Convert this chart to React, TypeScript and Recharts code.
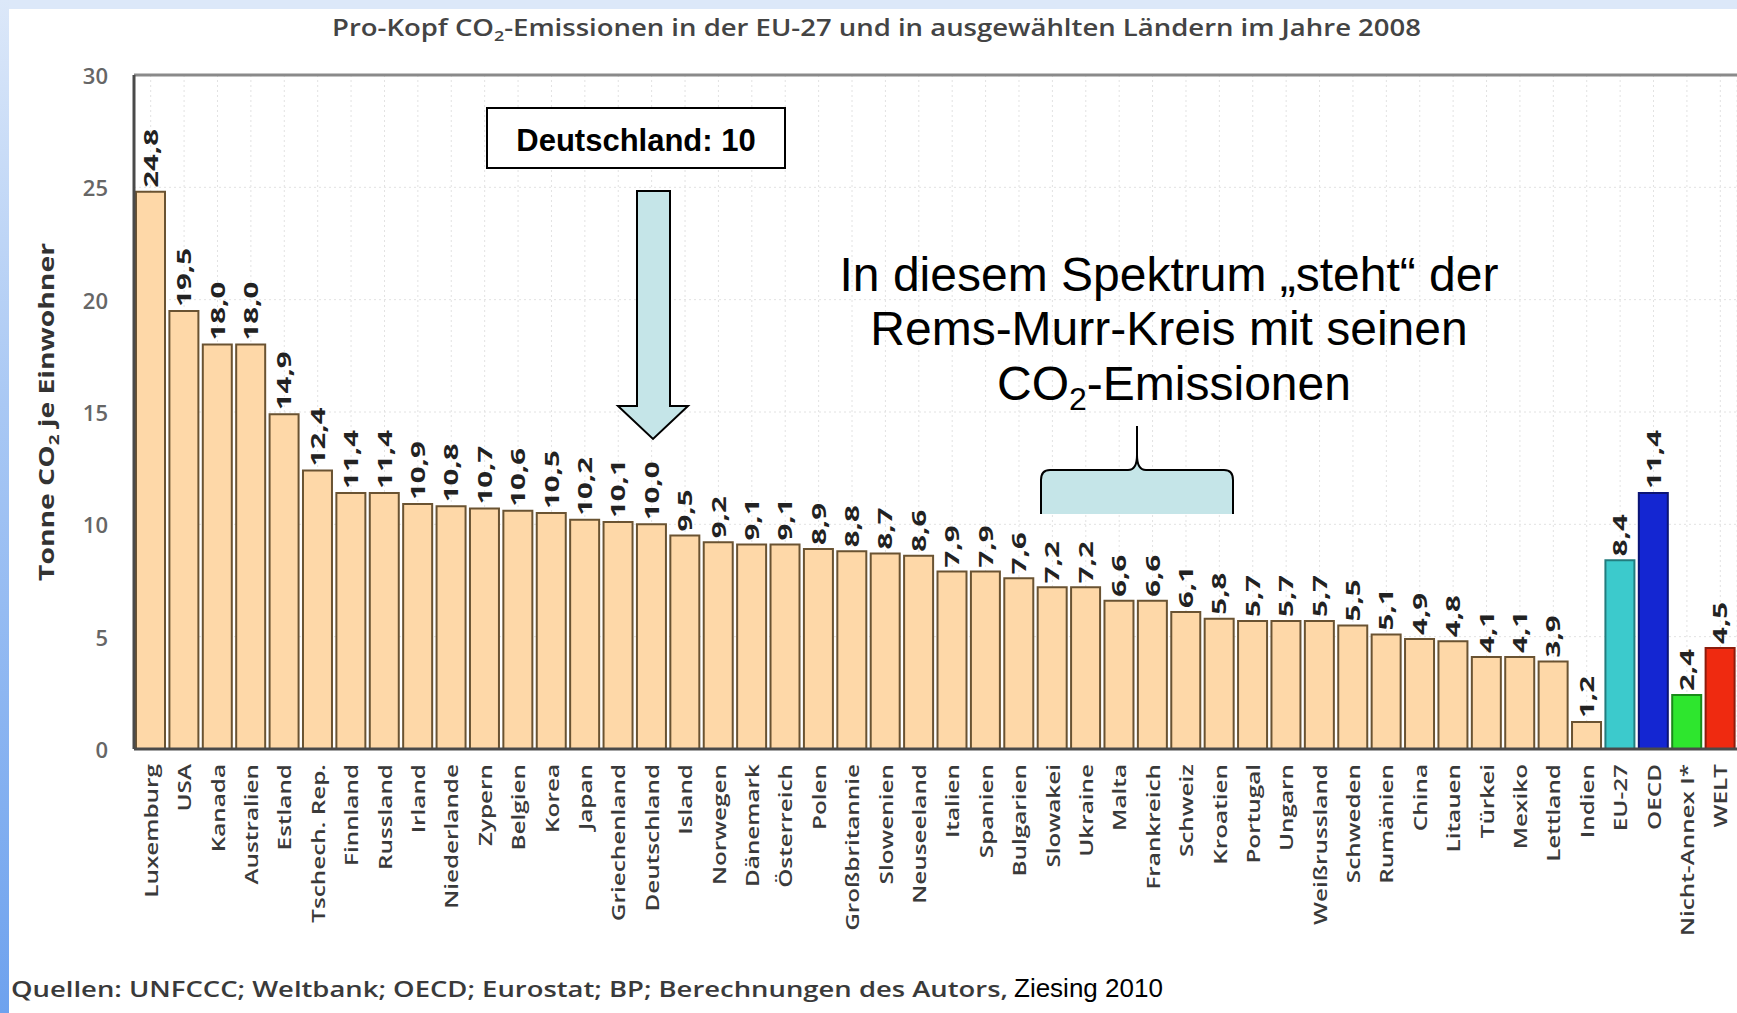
import React from 'react';
import { BarChart, Bar, XAxis, YAxis, CartesianGrid, Cell, LabelList, ReferenceLine } from 'recharts';

const CATEGORIES = [
  'Luxemburg', 'USA', 'Kanada', 'Australien', 'Estland', 'Tschech. Rep.', 'Finnland', 'Russland',
  'Irland', 'Niederlande', 'Zypern', 'Belgien', 'Korea', 'Japan', 'Griechenland', 'Deutschland',
  'Island', 'Norwegen', 'Dänemark', 'Österreich', 'Polen', 'Großbritannie', 'Slowenien', 'Neuseeland',
  'Italien', 'Spanien', 'Bulgarien', 'Slowakei', 'Ukraine', 'Malta', 'Frankreich', 'Schweiz',
  'Kroatien', 'Portugal', 'Ungarn', 'Weißrussland', 'Schweden', 'Rumänien', 'China', 'Litauen',
  'Türkei', 'Mexiko', 'Lettland', 'Indien', 'EU-27', 'OECD', 'Nicht-Annex I*', 'WELT',
];

const VALUES = [
  24.8, 19.5, 18.0, 18.0, 14.9, 12.4, 11.4, 11.4,
  10.9, 10.8, 10.7, 10.6, 10.5, 10.2, 10.1, 10.0,
  9.5, 9.2, 9.1, 9.1, 8.9, 8.8, 8.7, 8.6,
  7.9, 7.9, 7.6, 7.2, 7.2, 6.6, 6.6, 6.1,
  5.8, 5.7, 5.7, 5.7, 5.5, 5.1, 4.9, 4.8,
  4.1, 4.1, 3.9, 1.2, 8.4, 11.4, 2.4, 4.5,
];

const Y_TICKS = [0, 5, 10, 15, 20, 25, 30];

const TITLE_A = 'Pro-Kopf CO';
const TITLE_B = '-Emissionen in der EU-27 und in ausgewählten Ländern im Jahre 2008';
const Y_LABEL_A = 'Tonne CO';
const Y_LABEL_B = ' je Einwohner';
const SOURCE = 'Quellen: UNFCCC; Weltbank; OECD; Eurostat; BP; Berechnungen des Autors,';
const SOURCE_AUTHOR = 'Ziesing 2010';
const BOX_TEXT = 'Deutschland: 10';
const NOTE_LINES = ['In diesem Spektrum „steht“ der', 'Rems-Murr-Kreis mit seinen'];

const data = CATEGORIES.map((name, i) => ({ name, value: VALUES[i] }));

const FONT = "'Open Sans', 'DejaVu Sans', sans-serif";
const ARIAL = "'Liberation Sans', Arial, sans-serif";
const BAR_FILL = '#fed8a8';
const BAR_STROKE = '#6a5332';
const SPECIAL: Record<string, { fill: string; stroke: string }> = {
  'EU-27': { fill: '#3ccacc', stroke: '#237c7e' },
  OECD: { fill: '#1426d2', stroke: '#0b1475' },
  'Nicht-Annex I*': { fill: '#2ee62e', stroke: '#1a8a1a' },
  WELT: { fill: '#ef2a10', stroke: '#8c1c0c' },
};

const fmt = (v: number) => v.toFixed(1).replace('.', ',');

const XTick = (props: any) => {
  const { x, y, payload } = props;
  return (
    <text
      transform={`translate(${x},${y + 7}) rotate(-90) scale(1.35,1)`}
      textAnchor="end"
      dominantBaseline="central"
      fontFamily={FONT}
      fontSize={18}
      fontWeight={600}
      fill="#3a3a3a"
    >
      {payload.value}
    </text>
  );
};

const YTick = (props: any) => {
  const { x, y, payload } = props;
  return (
    <text x={x - 18} y={y} textAnchor="end" dominantBaseline="central" fontFamily={FONT} fontSize={22} fontWeight={600} fill="#666">
      {payload.value}
    </text>
  );
};

const ValueLabel = (props: any) => {
  const { x, y, width, value } = props;
  const cx = Number(x) + Number(width) / 2;
  return (
    <text
      transform={`translate(${cx},${Number(y) - 4}) rotate(-90) scale(1.55,1)`}
      textAnchor="start"
      dominantBaseline="central"
      fontFamily={FONT}
      fontSize={19}
      fontWeight={700}
      fill="#222"
    >
      {fmt(Number(value))}
    </text>
  );
};

export default function App() {
  return (
    <div style={{ position: 'absolute', left: 0, top: 0, width: 1737, height: 1013, overflow: 'hidden', background: '#fff' }}>
      <div style={{ position: 'absolute', left: 0, top: 0, width: 1737, height: 9, background: '#dce8f9' }} />
      <div
        style={{
          position: 'absolute', left: 0, top: 0, width: 9, height: 1013,
          background: 'linear-gradient(to bottom, #dce8f9 0%, #a9c8f4 40%, #6ea2ee 100%)',
        }}
      />
      <div style={{ position: 'absolute', left: 0, top: 0 }}>
        <BarChart
          width={1737}
          height={1013}
          data={data}
          margin={{ top: 75, right: 0, left: 74, bottom: 64 }}
          barSize={29}
        >
          <CartesianGrid stroke="#e2e2e2" strokeDasharray="2 3" vertical={true} />
          <XAxis
            dataKey="name"
            interval={0}
            height={200}
            tick={<XTick />}
            tickLine={false}
            axisLine={{ stroke: '#4a4a4a', strokeWidth: 3 }}
          />
          <YAxis
            domain={[0, 30]}
            ticks={Y_TICKS}
            width={60}
            tick={<YTick />}
            tickLine={false}
            axisLine={{ stroke: '#4a4a4a', strokeWidth: 3 }}
          />
          <YAxis
            yAxisId="r"
            orientation="right"
            domain={[0, 30]}
            width={0}
            tick={false}
            tickLine={false}
            axisLine={{ stroke: '#8a8a8a', strokeWidth: 4 }}
          />
          <ReferenceLine y={30} stroke="#8a8a8a" strokeWidth={3} />
          <Bar dataKey="value" isAnimationActive={false} strokeWidth={2}>
            {data.map((d) => (
              <Cell
                key={d.name}
                fill={SPECIAL[d.name] ? SPECIAL[d.name].fill : BAR_FILL}
                stroke={SPECIAL[d.name] ? SPECIAL[d.name].stroke : BAR_STROKE}
              />
            ))}
            <LabelList dataKey="value" content={<ValueLabel />} />
          </Bar>
        </BarChart>
      </div>
      <svg width={1737} height={1013} style={{ position: 'absolute', left: 0, top: 0, pointerEvents: 'none' }}>
        <text x={332} y={36} fontFamily={FONT} fontSize={23} fontWeight={600} fill="#444" textLength={1089} lengthAdjust="spacingAndGlyphs">
          {TITLE_A}
          <tspan fontSize={15} dy={5}>2</tspan>
          <tspan dy={-5}>{TITLE_B}</tspan>
        </text>
        <text
          transform="translate(54,412) rotate(-90)"
          textAnchor="middle"
          fontFamily={FONT}
          fontSize={21}
          fontWeight={700}
          fill="#333"
          textLength={338}
          lengthAdjust="spacingAndGlyphs"
        >
          {Y_LABEL_A}
          <tspan fontSize={14} dy={5}>2</tspan>
          <tspan dy={-5}>{Y_LABEL_B}</tspan>
        </text>
        <text x={11} y={997} fontFamily={FONT} fontSize={22} fontWeight={600} fill="#3a3a3a" textLength={997} lengthAdjust="spacingAndGlyphs">
          {SOURCE}
        </text>
        <text x={1014} y={997} fontFamily={ARIAL} fontSize={26} fill="#000">{SOURCE_AUTHOR}</text>

        <rect x={487} y={108} width={298} height={60} fill="#fff" stroke="#000" strokeWidth={2} />
        <text x={636} y={151} textAnchor="middle" fontFamily={ARIAL} fontSize={31} fontWeight={700} fill="#000">
          {BOX_TEXT}
        </text>
        <path
          d="M637,191 L670,191 L670,406 L688,406 L653,439 L618,406 L637,406 Z"
          fill="#c5e5e8"
          stroke="#000"
          strokeWidth={2}
          strokeLinejoin="miter"
        />
        <text x={1169} y={291} textAnchor="middle" fontFamily={ARIAL} fontSize={48} fill="#000">{NOTE_LINES[0]}</text>
        <text x={1169} y={345} textAnchor="middle" fontFamily={ARIAL} fontSize={48} fill="#000">{NOTE_LINES[1]}</text>
        <text x={1174} y={400} textAnchor="middle" fontFamily={ARIAL} fontSize={48} fill="#000">
          CO
          <tspan fontSize={32} dy={10}>2</tspan>
          <tspan dy={-10}>-Emissionen</tspan>
        </text>
        <path
          d="M1041,514 L1041,480 Q1041,470 1050,470 L1128,470 Q1137,470 1137,455 L1137,426 L1137,455 Q1137,470 1146,470 L1224,470 Q1233,470 1233,480 L1233,514 Z"
          fill="#c5e5e8"
          stroke="none"
        />
        <path
          d="M1041,514 L1041,480 Q1041,470 1050,470 L1128,470 Q1137,470 1137,455 L1137,426 M1137,455 Q1137,470 1146,470 L1224,470 Q1233,470 1233,480 L1233,514"
          fill="none"
          stroke="#000"
          strokeWidth={2}
        />
      </svg>
    </div>
  );
}
